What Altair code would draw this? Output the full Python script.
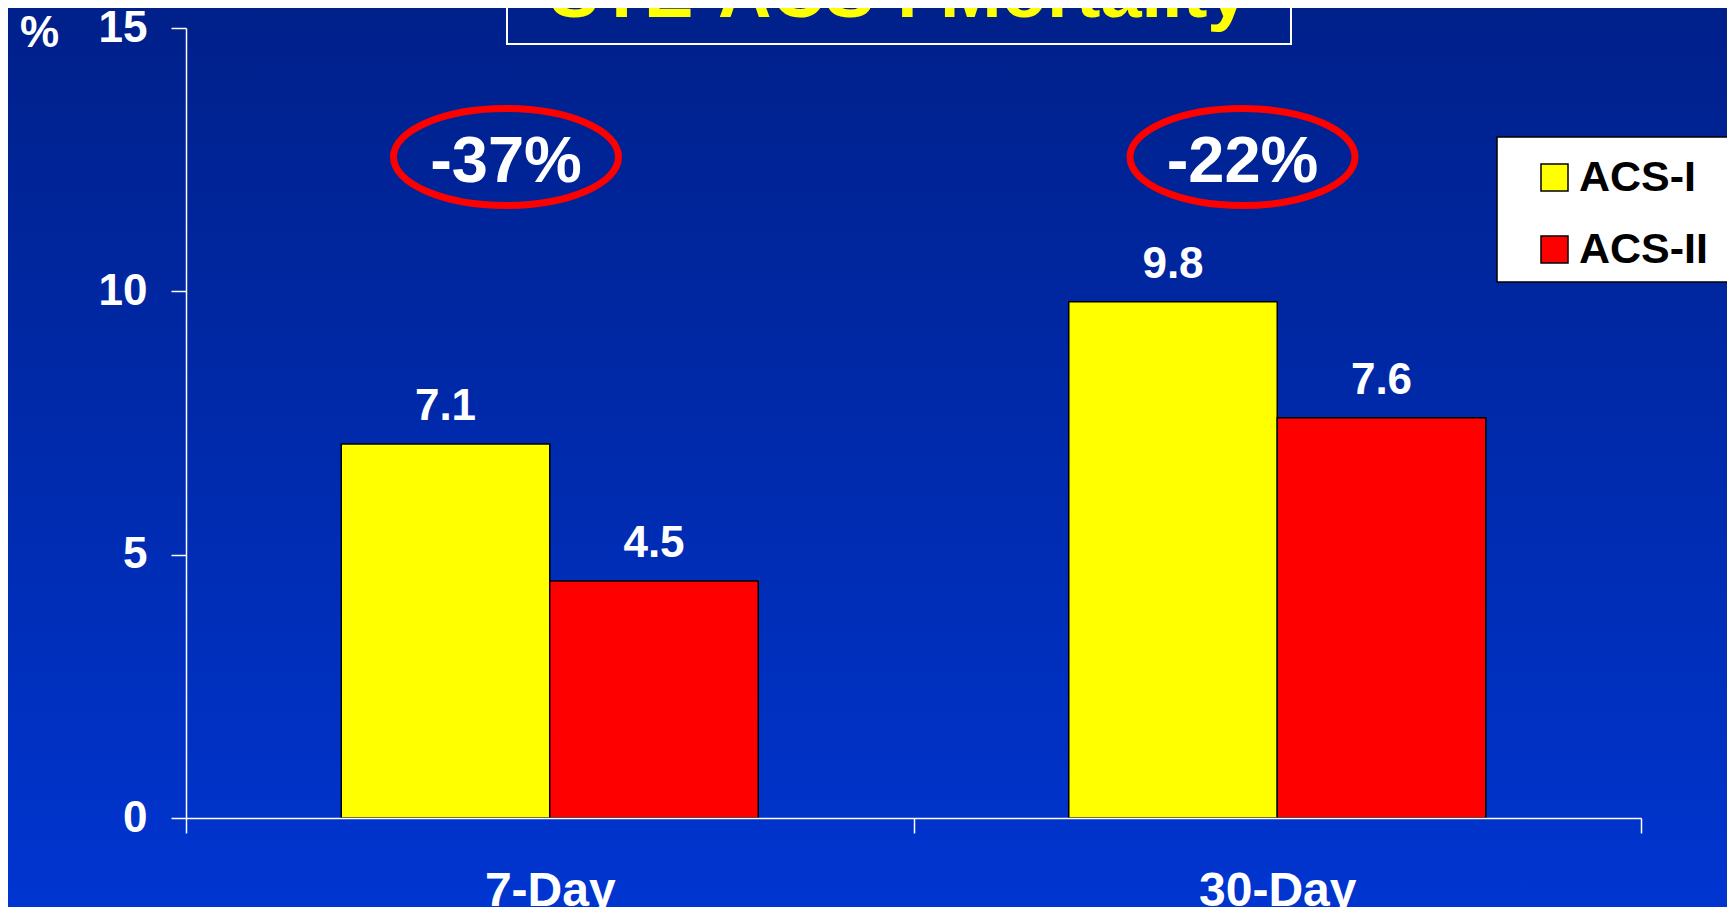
import altair as alt
import pandas as pd

# ---- data ----
categories = ["7-Day", "30-Day"]
series_names = ["ACS-I", "ACS-II"]
acs_i = [7.1, 9.8]
acs_ii = [4.5, 7.6]
reductions = ["-37%", "-22%"]
y_ticks = [0, 5, 10, 15]
title_text = "STE-ACS : Mortality"
bar_colors = ["#FFFF00", "#FF0000"]

rows = []
for c, a, b in zip(categories, acs_i, acs_ii):
    rows.append({"period": c, "group": series_names[0], "value": a})
    rows.append({"period": c, "group": series_names[1], "value": b})
df = pd.DataFrame(rows)
ann_df = pd.DataFrame({"period": categories, "label": reductions})

FONT = "Liberation Sans"
W, H = 1455, 790
PAD = {"left": 178, "top": 20, "right": 86, "bottom": 89}
ANNOT_LEVEL = 12.55
ANNOT_SHIFT = [320, 329]

x_axis = alt.Axis(
    title=None, labelAngle=0, grid=False, zindex=1,
    domainColor="white", domainWidth=1.5,
    tickColor="white", tickWidth=1.5, tickSize=15, tickBand="extent",
    labelFont=FONT, labelFontSize=48, labelFontWeight="bold",
    labelColor="white", labelBaseline="alphabetic", labelPadding=72,
)
y_axis = alt.Axis(
    values=y_ticks, grid=False, zindex=1,
    domainColor="white", domainWidth=1.5,
    tickColor="white", tickWidth=1.5, tickSize=15,
    labelFont=FONT, labelFontSize=44, labelFontWeight="bold",
    labelColor="white", labelPadding=24,
    title="%", titleAngle=0, titleX=-147, titleY=5,
    titleAlign="center", titleBaseline="middle",
    titleFont=FONT, titleFontSize=44, titleFontWeight="bold", titleColor="white",
)

x_enc = alt.X("period:N", sort=categories,
              scale=alt.Scale(paddingInner=0, paddingOuter=0),
              axis=x_axis)
y_enc = alt.Y("value:Q", scale=alt.Scale(domain=[0, 15], nice=False), axis=y_axis)
xoff_enc = alt.XOffset("group:N", sort=series_names,
                       scale=alt.Scale(paddingInner=0, paddingOuter=0.7446))

one = alt.Data(values=[{"k": 1}])

background = alt.Chart(one).mark_rect(
    fill=alt.Gradient(
        gradient="linear",
        stops=[alt.GradientStop(color="#00208A", offset=0),
               alt.GradientStop(color="#0035D0", offset=1)],
        x1=0, x2=0, y1=0, y2=1,
    )
).encode(x=alt.value(-PAD["left"]), x2=alt.value(W + PAD["right"]),
         y=alt.value(-PAD["top"]), y2=alt.value(H + PAD["bottom"]))

title_box = alt.Chart(one).mark_rect(
    fill="transparent", stroke="white", strokeWidth=2
).encode(x=alt.value(321), x2=alt.value(1105), y=alt.value(-40), y2=alt.value(16))

title = alt.Chart(one).mark_text(
    text=title_text, font=FONT, fontSize=74, fontWeight="bold",
    color="#FFFF00", align="center", baseline="alphabetic"
).encode(x=alt.value(713), y=alt.value(-11))

legend_box = alt.Chart(one).mark_rect(
    fill="white", stroke="black", strokeWidth=1.5
).encode(x=alt.value(1311), x2=alt.value(1700), y=alt.value(109), y2=alt.value(254))

bars = alt.Chart(df).mark_bar(stroke="black", strokeWidth=1.5, opacity=1).encode(
    x=x_enc, xOffset=xoff_enc, y=y_enc,
    color=alt.Color(
        "group:N",
        scale=alt.Scale(domain=series_names, range=bar_colors),
        legend=alt.Legend(
            title=None, orient="none", legendX=1347, legendY=128,
            symbolType="square", symbolSize=729,
            symbolStrokeColor="black", symbolStrokeWidth=1.5, symbolOpacity=1,
            labelFont=FONT, labelFontSize=43, labelFontWeight="bold",
            labelColor="black", labelOffset=3, rowPadding=28, padding=0,
            zindex=1,
        ),
    ),
)

bar_labels = alt.Chart(df).mark_text(
    font=FONT, fontSize=44, fontWeight="bold", color="white",
    baseline="alphabetic", dy=-24
).encode(x=x_enc, xOffset=xoff_enc, y=y_enc,
         text=alt.Text("value:Q", format=".1f"))

ELLIPSE = "M -1 0 A 1 0.431 0 1 0 1 0 A 1 0.431 0 1 0 -1 0 Z"
ann_layers = []
for i, cat in enumerate(categories):
    base = alt.Chart(ann_df).transform_filter(
        alt.datum.period == cat
    ).transform_calculate(value=str(ANNOT_LEVEL))
    ring = base.mark_point(
        shape=ELLIPSE, size=50625, filled=False, color="#FF0000",
        stroke="#FF0000", strokeWidth=7, opacity=1
    ).encode(x=x_enc, y=y_enc, xOffset=alt.value(ANNOT_SHIFT[i]))
    txt = base.mark_text(
        font=FONT, fontSize=65, fontWeight="bold", color="white",
        baseline="alphabetic", dy=25
    ).encode(x=x_enc, y=y_enc, xOffset=alt.value(ANNOT_SHIFT[i]), text="label:N")
    ann_layers += [ring, txt]

chart = alt.layer(
    background, title_box, title, legend_box, bars, bar_labels, *ann_layers
).properties(
    width=W, height=H,
    autosize=alt.AutoSizeParams(type="none"),
    padding=PAD,
    background="#002AAE",
).configure_view(stroke=None)

chart.save("out.html", embed_options={"renderer": "svg", "actions": False})
